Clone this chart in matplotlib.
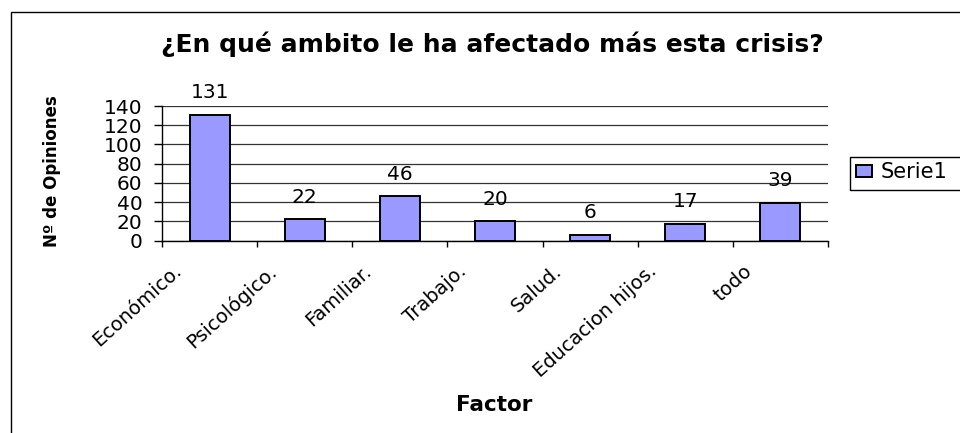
import matplotlib.pyplot as plt
from matplotlib.patches import Rectangle
from matplotlib.transforms import ScaledTranslation

plt.rcParams['font.family'] = ['DejaVu Sans']

categorias = ['Económico.', 'Psicológico.', 'Familiar.', 'Trabajo.', 'Salud.',
              'Educacion hijos.', 'todo']
opiniones = [131, 22, 46, 20, 6, 17, 39]
y_ticks = [0, 20, 40, 60, 80, 100, 120, 140]

W, H = 960, 433
fig = plt.figure(figsize=(9.6, 4.33), dpi=100)

# outer chart frame (right/bottom edges fall outside the picture)
fig.patches.append(Rectangle((10.5 / W, -0.1), 1.2, 1.1 - 12.5 / H,
                             transform=fig.transFigure, fill=False,
                             edgecolor='black', linewidth=1.0))

ax = fig.add_axes([162 / W, 1 - 240.5 / H, (828 - 162) / W, (240.5 - 106) / H])

x = list(range(len(categorias)))
bars = ax.bar(x, opiniones, width=0.42, color='#9999FF', edgecolor='black',
              linewidth=1.4, zorder=3, label='Serie1')

for xi, v in zip(x, opiniones):
    ax.annotate(str(v), (xi, v), xytext=(0, 16), textcoords='offset points',
                ha='center', va='center', fontsize=14.5, zorder=4)

ax.set_xlim(-0.5, len(categorias) - 0.5)
ax.set_ylim(0, 140)
ax.set_yticks(y_ticks)
ax.set_yticklabels([str(t) for t in y_ticks], fontsize=14.5)
ax.yaxis.grid(True, color='#333333', linewidth=0.9, zorder=0)
ax.tick_params(axis='y', length=6, width=1, pad=8, direction='out')

# ticks between categories, labels at centers
ax.set_xticks([i - 0.5 for i in range(len(categorias) + 1)])
ax.set_xticklabels([])
ax.tick_params(axis='x', length=4, width=1, direction='out')
ax.set_xticks(x, minor=True)
ax.set_xticklabels(categorias, minor=True, rotation=42, ha='right',
                   rotation_mode='anchor', fontsize=14, va='center')
ax.tick_params(axis='x', which='minor', length=0, pad=20)
for lbl in ax.get_xticklabels(minor=True):
    lbl.set_transform(lbl.get_transform() +
                      ScaledTranslation(-31 / 100, 0, fig.dpi_scale_trans))

for side in ['top', 'right']:
    ax.spines[side].set_visible(False)
ax.spines['left'].set_linewidth(1)
ax.spines['bottom'].set_linewidth(1)

fig.text(492 / W, 1 - 44 / H, '¿En qué ambito le ha afectado más esta crisis?',
         ha='center', va='center', fontsize=18, fontweight='bold')
fig.text(52 / W, 1 - 171 / H, 'Nº de Opiniones', rotation=90, ha='center',
         va='center', fontsize=12, fontweight='bold')
fig.text(494 / W, 1 - 405 / H, 'Factor', ha='center', va='center',
         fontsize=15.5, fontweight='bold')

# legend box runs past the right edge of the picture
fig.patches.append(Rectangle((849.5 / W, 1 - 189.5 / H), 130 / W, 33 / H,
                             transform=fig.transFigure, fill=False,
                             edgecolor='black', linewidth=1.0))
leg = fig.legend(handles=[bars], labels=['Serie1'], loc='center left',
                 bbox_to_anchor=(856 / W, 1 - 172.5 / H), fontsize=15,
                 frameon=False, handlelength=0.75, handleheight=0.5,
                 handletextpad=0.45, borderpad=0.0, borderaxespad=0)

fig.savefig('out.png', dpi=100)
